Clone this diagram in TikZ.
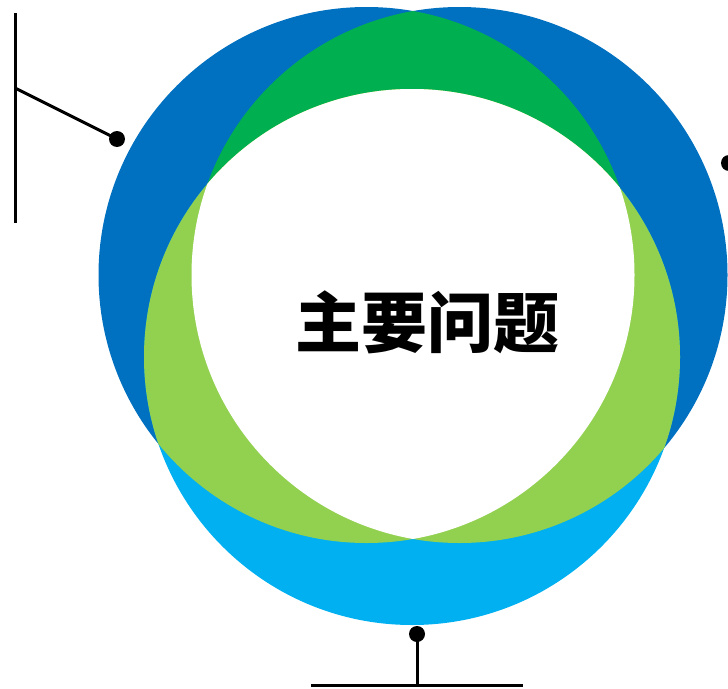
\documentclass[tikz,border=0pt]{standalone}
\usepackage{fontspec}
\newfontfamily\cjk{Noto Sans CJK SC}
\definecolor{dblue}{HTML}{0070C0}
\definecolor{lblue}{HTML}{00B0F0}
\definecolor{dgreen}{HTML}{00B050}
\definecolor{lgreen}{HTML}{92D050}
\tikzset{
  conn/.style={line width=3pt, draw=black},
  dotmark/.style={circle, fill=black, inner sep=0pt, minimum size=16pt},
}
\begin{document}
\begin{tikzpicture}[x=1pt,y=-1pt]
\useasboundingbox (0,0) rectangle (728,688);
\clip (0,0) rectangle (728,688);
\def\rr{268}
\coordinate (L) at (366.5,275);
\coordinate (R) at (459.5,275);
\coordinate (B) at (412,357);
% outer discs
\fill[dblue] (L) circle (\rr);
\fill[dblue] (R) circle (\rr);
\fill[lblue] (B) circle (\rr);
% pairwise intersections
\begin{scope}
  \clip (L) circle (\rr);
  \fill[dgreen] (R) circle (\rr);
\end{scope}
\begin{scope}
  \clip (B) circle (\rr);
  \fill[lgreen] (L) circle (\rr);
  \fill[lgreen] (R) circle (\rr);
\end{scope}
% triple intersection
\begin{scope}
  \clip (L) circle (\rr);
  \clip (R) circle (\rr);
  \fill[white] (B) circle (\rr);
\end{scope}
% title
\node (title) at (427.5,322.5) {\cjk\bfseries\fontsize{66}{70}\selectfont 主要问题};
% left connector
\node[dotmark] (d1) at (117,139) {};
\coordinate (j1) at (15,88);
\coordinate (t1) at (15,13);
\coordinate (b1) at (15,223);
\draw[conn] (t1) -- (b1);
\draw[conn] (j1) -- (d1.center);
% bottom connector
\node[dotmark] (d2) at (417,634) {};
\coordinate (j2) at (417,685.5);
\coordinate (h1) at (311,685.5);
\coordinate (h2) at (523,685.5);
\draw[conn] (d2.center) -- (j2);
\draw[conn] (h1) -- (h2);
% right connector dot (cut by the edge)
\node[dotmark] (d3) at (729,163) {};
\end{tikzpicture}
\end{document}
